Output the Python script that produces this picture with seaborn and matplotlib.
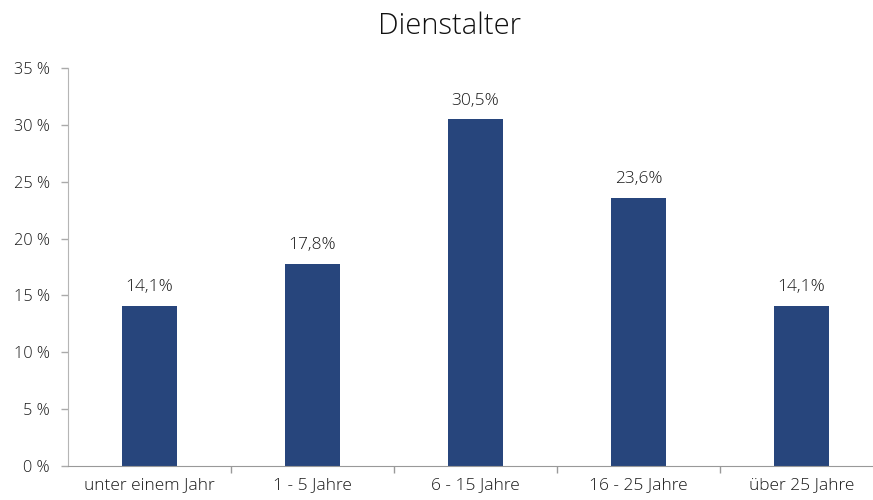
import matplotlib
matplotlib.use("Agg")
import matplotlib.pyplot as plt
import seaborn as sns
import pandas as pd
from matplotlib.ticker import FixedLocator

categories = ["unter einem Jahr", "1 - 5 Jahre", "6 - 15 Jahre", "16 - 25 Jahre", "über 25 Jahre"]
values = [14.1, 17.8, 30.5, 23.6, 14.1]
value_labels = ["14,1%", "17,8%", "30,5%", "23,6%", "14,1%"]
yticks = [0, 5, 10, 15, 20, 25, 30, 35]
ytick_labels = ["0 %", "5 %", "10 %", "15 %", "20 %", "25 %", "30 %", "35 %"]
title = "Dienstalter"

sns.set_style("white")
plt.rcParams['font.family'] = ['Open Sans', 'DejaVu Sans']
plt.rcParams['font.weight'] = 'light'

df = pd.DataFrame({"cat": categories, "val": values})

fig = plt.figure(figsize=(8.73, 5.0), dpi=100)
ax = fig.add_axes([68/873, 34/500, 815/873, 398/500])
sns.barplot(data=df, x="cat", y="val", color="#27457C", width=0.34, ax=ax,
            saturation=1, linewidth=0)

ax.set_xlim(-0.5, 4.5)
ax.set_ylim(0, 35)
ax.set_yticks(yticks)
ax.set_yticklabels(ytick_labels, fontsize=11.7, color="#1a1a1a")
ax.set_xlabel("")
ax.set_ylabel("")
ax.tick_params(axis='x', which='major', length=0, labelsize=12.5, labelcolor="#1a1a1a", pad=8)
ax.xaxis.set_minor_locator(FixedLocator([0.5, 1.5, 2.5, 3.5]))
ax.tick_params(axis='x', which='minor', length=5, color="#999999", width=1, direction='out', bottom=True)
ax.tick_params(axis='y', length=5, color="#aaaaaa", width=1, direction='out', left=True, pad=8)

for s in ["top", "right"]:
    ax.spines[s].set_visible(False)
ax.spines["left"].set_color("#b5b5b5")
ax.spines["bottom"].set_color("#999999")

for i, (v, lab) in enumerate(zip(values, value_labels)):
    ax.text(i, v + 0.9, lab, ha="center", va="bottom", fontsize=12.5, color="#1a1a1a")

fig.text(0.515, 0.948, title, ha="center", va="center", fontsize=21, color="#111111")

fig.savefig("out.png", dpi=100)
